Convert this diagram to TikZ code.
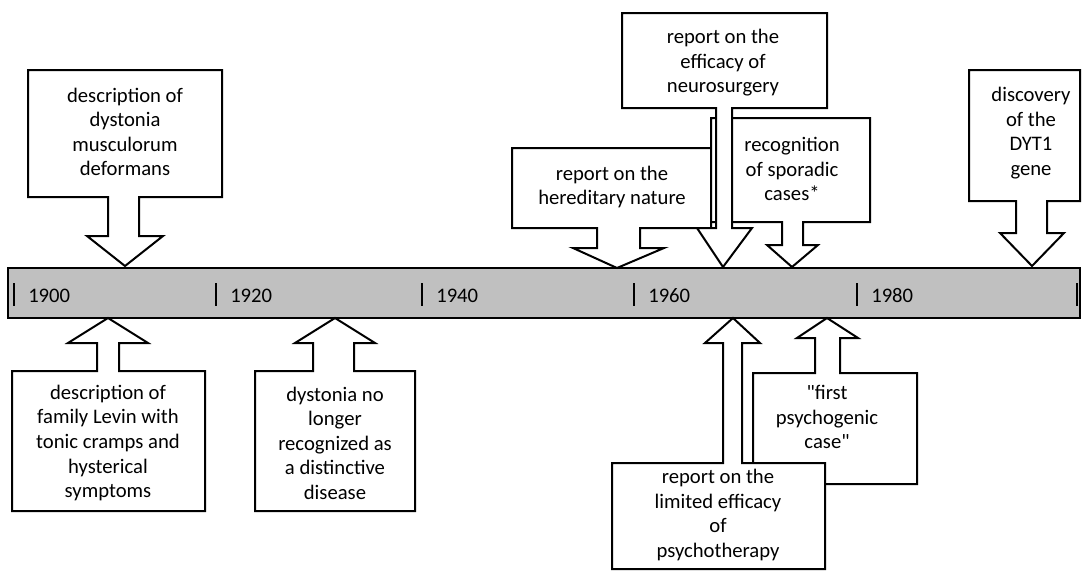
\documentclass[tikz,border=0pt]{standalone}
\usepackage{fontspec}
\setmainfont{Carlito}[Ligatures=TeXOff]
\definecolor{barGray}{HTML}{C0C0C0}
\begin{document}
\begin{tikzpicture}[x=0.75pt,y=-0.75pt,line join=miter,
  callout/.style={draw=black,fill=white,line width=1.5pt},
  txt/.style={align=center,inner sep=0pt,font=\fontsize{15.5}{18.4}\selectfont},
  year/.style={anchor=west,inner sep=0pt,font=\fontsize{15.5}{18.4}\selectfont}]
\useasboundingbox (0,0) rectangle (1084,571);
%timeline
\draw[fill=barGray,line width=1.5pt] (8,268) rectangle (1080,318);
\foreach \xt/\yr in {14/1900,216/1920,422/1940,634/1960,857/1980}
  {\draw[line width=1.5pt] (\xt,283)--(\xt,306);
   \node[year] (y\yr) at (\xt+14,296) {\yr};}
\draw[line width=1.5pt] (1077,283)--(1077,306);
%========
%callouts above
\draw[callout] (28,70)--(222,70)--(222,197)--(139,197)--(139,236)--(163,236)--(125,266)--(87,236)--(108,236)--(108,197)--(28,197)--cycle;
\node[txt] (musculorum) at (125,132) {description of\\dystonia\\musculorum\\deformans};
%
\draw[callout] (512,148)--(711,148)--(711,228)--(640,228)--(640,248)--(664,248)--(617,268)--(573,248)--(597,248)--(597,228)--(512,228)--cycle;
\node[txt] (hereditary) at (612,187) {report on the\\hereditary nature};
%
\draw[callout] (711,118)--(870,118)--(870,222)--(803,222)--(803,245)--(818,245)--(792,267)--(767,245)--(782,245)--(782,222)--(711,222)--cycle;
\node[txt] (sporadic) at (792,169) {recognition\\of sporadic\\cases*};
%
\draw[callout] (622,13)--(827,13)--(827,108)--(732,108)--(732,228)--(752,228)--(723,267)--(697,228)--(716,228)--(716,108)--(622,108)--cycle;
\node[txt] (neurosurgery) at (723,63) {report on the\\efficacy of\\neurosurgery};
%
\draw[callout] (969,70)--(1080,70)--(1080,201)--(1047,201)--(1047,233)--(1064,233)--(1032,266)--(1000,233)--(1016,233)--(1016,201)--(969,201)--cycle;
\node[txt] (dyt) at (1031,133) {discovery\\of the\\DYT1\\gene};
%========
%callouts below
\draw[callout] (12,511)--(12,371)--(97,371)--(97,343)--(68,343)--(108,318)--(148,343)--(119,343)--(119,371)--(205,371)--(205,511)--cycle;
\node[txt] (levin) at (108,443) {description of\\family Levin with\\tonic cramps and\\hysterical\\symptoms};
%
\draw[callout] (255,511)--(255,371)--(313,371)--(313,343)--(295,343)--(335,318)--(375,343)--(354,343)--(354,371)--(415,371)--(415,511)--cycle;
\node[txt] (nolonger) at (335,443) {dystonia no\\longer\\recognized as\\a distinctive\\disease};
%
\draw[callout] (753,484)--(753,373)--(815,373)--(815,338)--(797,338)--(827,318)--(858,338)--(840,338)--(840,373)--(917,373)--(917,484)--cycle;
\node[txt] (psychogenic) at (827,417) {"first\\psychogenic\\case"};
%
\draw[callout] (612,569)--(612,463)--(723,463)--(723,343)--(705,343)--(733,318)--(760,343)--(742,343)--(742,463)--(825,463)--(825,569)--cycle;
\node[txt] (psychotherapy) at (718,515) {report on the\\limited efficacy\\of\\psychotherapy};
\end{tikzpicture}
\end{document}
